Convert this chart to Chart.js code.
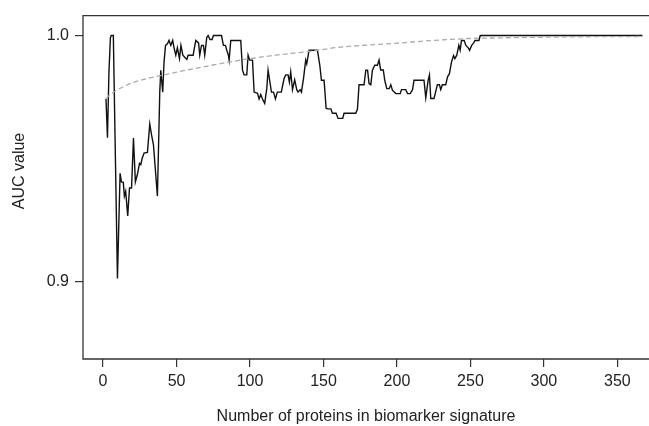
<!DOCTYPE html>
<html>
<head>
<meta charset="utf-8">
<script src="https://cdn.jsdelivr.net/npm/chart.js@4/dist/chart.umd.min.js"></script>
<style>
  html, body { margin: 0; padding: 0; background: #fff; overflow: hidden; }
</style>
</head>
<body>
<canvas id="aucChart" width="649" height="426"></canvas>
<script>

  // ---- data ----
  const proteinCount = [2, 3, 4, 5, 5.5, 7, 9.8, 11.6, 12.5, 13.8, 14.5, 15.4, 16.8, 18, 19.4, 20.7, 22, 23.4, 24.8, 25.7,
    26.6, 27.9, 30.2, 31.8, 33, 34.3, 35.2, 37, 38.6, 39.3, 40.6, 41.5, 42.5, 43.8, 44.9, 46.1, 47.4, 48.3, 49.5, 50.6,
    52, 53, 54.3, 57, 57.9, 61.3, 63.1, 65, 65.8, 67, 68.3, 69.2, 70.6, 71.5, 72.8, 74.2, 75.1, 80.6, 81.9, 83.3,
    84.2, 85.3, 85.8, 86.9, 93.7, 94.9, 96, 97.8, 98.7, 99.8, 101.7, 102.8, 105.1, 106.2, 107.3, 108.5, 110, 111.4, 112.3, 113.7,
    114.6, 116, 117.3, 118.6, 121.3, 123.2, 124.3, 125.9, 126.8, 127.7, 128.9, 130.4, 131.8, 132.7, 134.1, 135, 136.4, 137.9, 138.6, 140.2,
    145.9, 147.5, 148.6, 150.4, 151.8, 153.2, 155, 156.1, 158.6, 159.9, 163.1, 164, 172, 173.1, 174.2, 177.6, 178.8, 180, 181, 182.2,
    183.3, 184.9, 186.7, 187.8, 188.9, 190.7, 191.7, 193.1, 194.7, 195.8, 196.9, 199.2, 202.2, 203.1, 206, 207.2, 209, 210.6, 211.6, 218.4,
    219.6, 221.2, 222.1, 223, 225.2, 226.6, 227.5, 228.9, 229.8, 230.9, 233.2, 234.4, 235.7, 237.1, 238.5, 239.4, 240.7, 242.1, 243, 243.9,
    245.7, 246.9, 248.5, 249.4, 250.8, 252.2, 253.1, 255.8, 256.6, 257, 367];
  const aucValue = [0.9742, 0.9585, 0.985, 0.999, 1.0, 1.0, 0.9012, 0.944, 0.9405, 0.9403, 0.9347, 0.9367, 0.9267, 0.938, 0.938, 0.9583, 0.9405, 0.9436, 0.948, 0.9475,
    0.950, 0.9522, 0.9525, 0.964, 0.9596, 0.9556, 0.9486, 0.9347, 0.9771, 0.9859, 0.977, 0.9892, 0.996, 0.9966, 0.998, 0.996, 0.998, 0.995, 0.992, 0.995,
    0.9906, 0.996, 0.992, 0.9903, 0.992, 0.992, 0.998, 0.997, 0.992, 0.996, 0.996, 0.992, 0.9993, 1.0, 0.9984, 0.9984, 1.0, 1.0, 0.996, 0.996,
    0.994, 0.992, 0.990, 0.998, 0.998, 0.9859, 0.984, 0.984, 0.992, 0.990, 0.990, 0.977, 0.9765, 0.9742, 0.976, 0.9742, 0.9724, 0.9784, 0.9859, 0.9805,
    0.977, 0.977, 0.9742, 0.977, 0.977, 0.9825, 0.984, 0.984, 0.981, 0.9852, 0.978, 0.982, 0.978, 0.977, 0.978, 0.977, 0.9825, 0.990, 0.9885, 0.994,
    0.994, 0.9879, 0.9818, 0.9818, 0.9704, 0.9702, 0.9702, 0.9684, 0.9684, 0.9663, 0.9663, 0.9684, 0.9684, 0.970, 0.980, 0.980, 0.9859, 0.9859, 0.9805, 0.980,
    0.9859, 0.9879, 0.9879, 0.990, 0.986, 0.986, 0.9818, 0.9784, 0.9784, 0.980, 0.9778, 0.9764, 0.9764, 0.978, 0.978, 0.9764, 0.9764, 0.978, 0.9818, 0.9818,
    0.9747, 0.9818, 0.984, 0.9744, 0.9744, 0.9778, 0.980, 0.980, 0.978, 0.980, 0.980, 0.9832, 0.9845, 0.9892, 0.9919, 0.9906, 0.992, 0.996, 0.994, 0.998,
    0.998, 0.996, 0.995, 0.994, 0.996, 0.997, 0.998, 0.998, 0.9999, 1.0, 1.0];

  // grey dashed trend curve
  const trendCount = [2, 5, 10, 15, 20, 30, 40, 50, 60, 80, 100, 120, 140, 160, 180, 200, 225, 250, 275, 300, 330, 367];
  const trendValue = [0.9744, 0.9760, 0.9780, 0.9795, 0.9808, 0.9825, 0.9838, 0.9851, 0.9863, 0.9886, 0.9906, 0.9922,
    0.9935, 0.9952, 0.9961, 0.9969, 0.9980, 0.9988, 0.9991, 0.9993, 0.9995, 0.9996];

  const xTicks = [0, 50, 100, 150, 200, 250, 300, 350];
  const yTicks = [0.9, 1.0];

  const FONT = "'Liberation Sans', Arial, sans-serif";
  const Y_TITLE = 'AUC value';

  /**==========================================================
   *   box around the plot region + y label (R style)
   *   the right side of the box is cut off in the picture
   ==========================================================*/
  const boxPlugin = {
    id: 'plotBox',
    afterDatasetsDraw(chart) {
      const a = chart.chartArea;
      const ctx = chart.ctx;
      ctx.save();
      ctx.strokeStyle = '#333';
      ctx.lineWidth = 1.3;
      ctx.beginPath();
      ctx.moveTo(chart.width, a.top);
      ctx.lineTo(a.left, a.top);
      ctx.lineTo(a.left, a.bottom);
      ctx.lineTo(chart.width, a.bottom);
      ctx.stroke();
      ctx.restore();
    },
    afterDraw(chart) {
      const ctx = chart.ctx;
      ctx.save();
      ctx.translate(20, 171);
      ctx.rotate(-Math.PI / 2);
      ctx.fillStyle = '#222';
      ctx.font = "16px " + FONT;
      ctx.textAlign = 'center';
      ctx.textBaseline = 'middle';
      ctx.fillText(Y_TITLE, 0, 0);
      ctx.restore();
    }
  };

  function toPoints(xs, ys) {
    let pts = [];
    for (let i = 0; i < xs.length; i++) pts.push({ x: xs[i], y: ys[i] });
    return pts;
  }

  /**==========================================================
   *   drawChart()
   ==========================================================*/
  function drawChart() {
    const ctx = document.getElementById('aucChart');
    new Chart(ctx, {
      type: 'line',
      data: {
        datasets: [
          {
            label: 'trend',
            data: toPoints(trendCount, trendValue),
            borderColor: '#aaaaaa',
            borderWidth: 1.3,
            borderDash: [5, 3],
            cubicInterpolationMode: 'monotone',
            pointRadius: 0,
            fill: false
          },
          {
            label: 'AUC',
            data: toPoints(proteinCount, aucValue),
            borderColor: '#111111',
            borderWidth: 1.4,
            tension: 0,
            pointRadius: 0,
            fill: false
          }
        ]
      },
      options: {
        responsive: false,
        animation: false,
        devicePixelRatio: 1,
        layout: { padding: { top: 13, right: 0, bottom: 0, left: 0 } },
        plugins: {
          legend: { display: false },
          tooltip: { enabled: false }
        },
        scales: {
          x: {
            type: 'linear',
            min: -13.64,
            max: 371.5,
            afterBuildTicks: (s) => { s.ticks = xTicks.map(v => ({ value: v })); },
            afterFit: (s) => { s.height = 67; },
            ticks: {
              color: '#222',
              font: { family: FONT, size: 16 },
              padding: 5,
              maxRotation: 0,
              autoSkip: false,
              callback: (v) => String(v)
            },
            grid: { drawOnChartArea: false, tickLength: 8, color: '#333', lineWidth: 1.2 },
            border: { display: false },
            title: {
              display: true,
              text: 'Number of proteins in biomarker signature',
              color: '#222',
              font: { family: FONT, size: 16 },
              padding: { top: 8, bottom: 0 }
            }
          },
          y: {
            type: 'linear',
            min: 0.8685,
            max: 1.0081,
            afterBuildTicks: (s) => { s.ticks = yTicks.map(v => ({ value: v })); },
            afterFit: (s) => { s.width = 83; },
            ticks: {
              color: '#222',
              font: { family: FONT, size: 16 },
              padding: 6,
              callback: (v) => v.toFixed(1)
            },
            grid: { drawOnChartArea: false, tickLength: 8, color: '#333', lineWidth: 1.2 },
            border: { display: false },
            title: { display: false }
          }
        }
      },
      plugins: [boxPlugin]
    });
  }

  drawChart();
</script>
</body>
</html>
